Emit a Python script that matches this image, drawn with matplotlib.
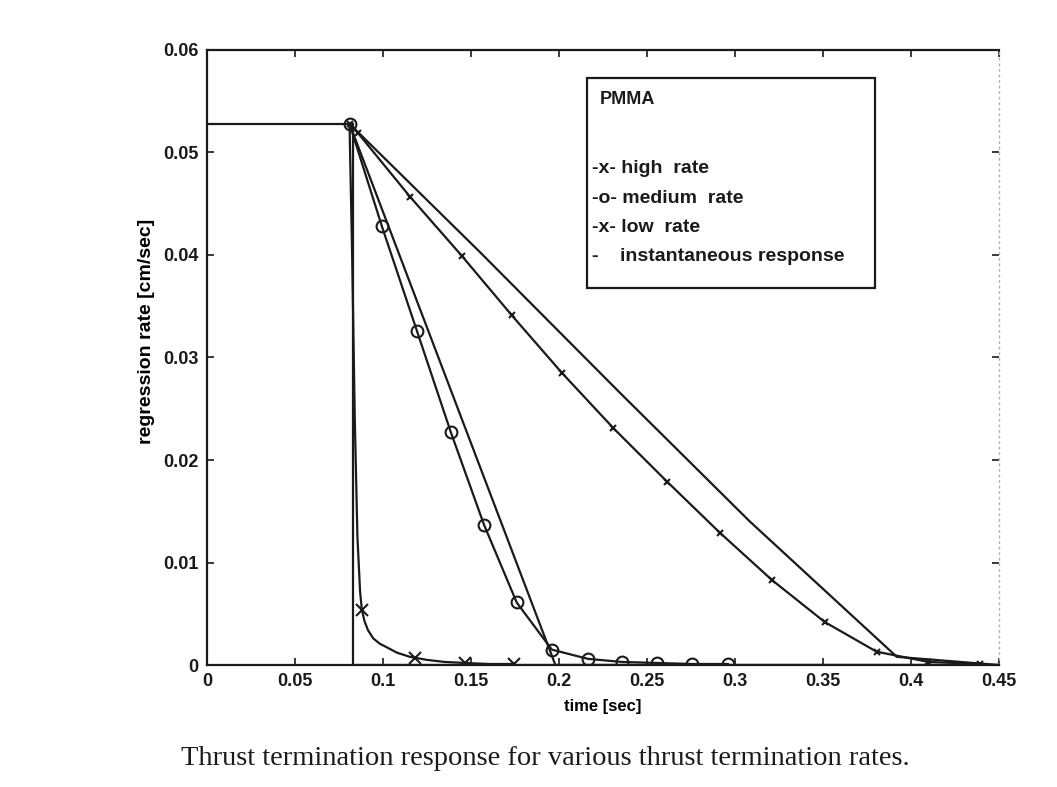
import matplotlib
matplotlib.use("Agg")
import matplotlib.pyplot as plt
from matplotlib.patches import Rectangle

plt.rcParams['font.family'] = ['Liberation Sans', 'DejaVu Sans']

# steady burn before termination
t_pre = [0.0, 0.081]
r_pre = [0.0528, 0.0528]

# instantaneous response
t_inst = [0.083, 0.083, 0.45]
r_inst = [0.0528, 0.0, 0.0]

# high rate response (smooth curve + sparse markers)
t_high = [0.081, 0.0825, 0.084, 0.0855, 0.087, 0.088, 0.0895, 0.0915, 0.0945,
          0.098, 0.1025, 0.108, 0.1153, 0.125, 0.135, 0.1466, 0.16, 0.1744]
r_high = [0.0528, 0.040, 0.024, 0.0125, 0.0072, 0.0054, 0.0043, 0.0034, 0.0026,
          0.0021, 0.0017, 0.0012, 0.0008, 0.0005, 0.0003, 0.0002, 0.0001, 0.0001]
t_high_mk = [0.088, 0.118, 0.1466, 0.1744]
r_high_mk = [0.0054, 0.0007, 0.0002, 0.0001]

# medium rate: ramp and response
t_med_ramp = [0.081, 0.198, 0.45]
r_med_ramp = [0.0528, 0.0, 0.0]
t_med = [0.081, 0.0994, 0.1193, 0.1386, 0.1574, 0.176, 0.196, 0.2165, 0.2358,
         0.2557, 0.2756, 0.296]
r_med = [0.0528, 0.0428, 0.0326, 0.0227, 0.0137, 0.0061, 0.0015, 0.0006, 0.0003,
         0.0002, 0.0001, 0.0001]

# low rate: ramp and response
t_low_ramp = [0.081, 0.155, 0.235, 0.3085, 0.392, 0.45]
r_low_ramp = [0.0528, 0.0403, 0.0265, 0.0140, 0.0008, 0.0]
t_low = [0.081, 0.0858, 0.1153, 0.1449, 0.1733, 0.2017, 0.231, 0.2614, 0.2915,
         0.321, 0.351, 0.3805, 0.41, 0.4395]
r_low = [0.0528, 0.0519, 0.0457, 0.0399, 0.0341, 0.0285, 0.0231, 0.0179, 0.0129,
         0.0083, 0.0042, 0.0013, 0.0003, 0.0001]

xticks = [0, 0.05, 0.1, 0.15, 0.2, 0.25, 0.3, 0.35, 0.4, 0.45]
xlabels = ['0', '0.05', '0.1', '0.15', '0.2', '0.25', '0.3', '0.35', '0.4', '0.45']
yticks = [0, 0.01, 0.02, 0.03, 0.04, 0.05, 0.06]
ylabels = ['0', '0.01', '0.02', '0.03', '0.04', '0.05', '0.06']

legend_lines = ['-x- high  rate', '-o- medium  rate', '-x- low  rate',
                '-    instantaneous response']

ink = '#1a1a1a'
lw = 1.6

fig = plt.figure(figsize=(10.57, 7.87), dpi=100)
ax = fig.add_axes([0.1958, 0.155, 0.7492, 0.7815])

ax.plot(t_pre, r_pre, color=ink, lw=lw)
ax.plot(t_inst, r_inst, color=ink, lw=lw)
ax.plot(t_high, r_high, color=ink, lw=lw)
ax.plot(t_high_mk, r_high_mk, 'x', color=ink, ms=8, mew=1.5)
ax.plot(t_med_ramp, r_med_ramp, color=ink, lw=lw)
ax.plot(t_med, r_med, '-o', color=ink, lw=lw, ms=8.5, mfc='none', mew=1.5)
ax.plot(t_low_ramp, r_low_ramp, color=ink, lw=lw)
ax.plot(t_low, r_low, '-x', color=ink, lw=lw, ms=5, mew=1.5)

ax.set_xlim(0, 0.45)
ax.set_ylim(0, 0.06)
ax.set_xticks(xticks)
ax.set_xticklabels(xlabels)
ax.set_yticks(yticks)
ax.set_yticklabels(ylabels)
ax.tick_params(direction='in', length=5, width=1.2, top=True, right=True,
               labelsize=13, pad=6, colors=ink)
for lab in ax.get_xticklabels() + ax.get_yticklabels():
    lab.set_fontweight('bold')

for side in ['left', 'bottom', 'top']:
    ax.spines[side].set_linewidth(1.6)
    ax.spines[side].set_color(ink)
ax.spines['right'].set_color('#b0b0b0')
ax.spines['right'].set_linewidth(1.0)
ax.spines['right'].set_linestyle((0, (1, 3)))

ax.set_xlabel('time [sec]', fontsize=12, fontweight='bold', labelpad=6)
ax.set_ylabel('regression rate [cm/sec]', fontsize=14, fontweight='bold')
ax.yaxis.set_label_coords(-0.066, 0.543)

# legend panel
ax.add_patch(Rectangle((0.48, 0.613), 0.363, 0.3415, transform=ax.transAxes,
                       fill=False, lw=1.6, edgecolor=ink, zorder=5))
ax.text(0.496, 0.919, 'PMMA', transform=ax.transAxes, fontsize=13,
        fontweight='bold', va='center', ha='left', color=ink)
for i, s in enumerate(legend_lines):
    ax.text(0.486, 0.8065 - 0.0472 * i, s, transform=ax.transAxes, fontsize=14,
            fontweight='bold', va='center', ha='left', color=ink)

fig.text(0.5156, 0.0356, 'Thrust termination response for various thrust termination rates.',
         family='Liberation Serif', fontsize=20.5, ha='center', va='center', color=ink)

fig.savefig('out.png', dpi=100)
